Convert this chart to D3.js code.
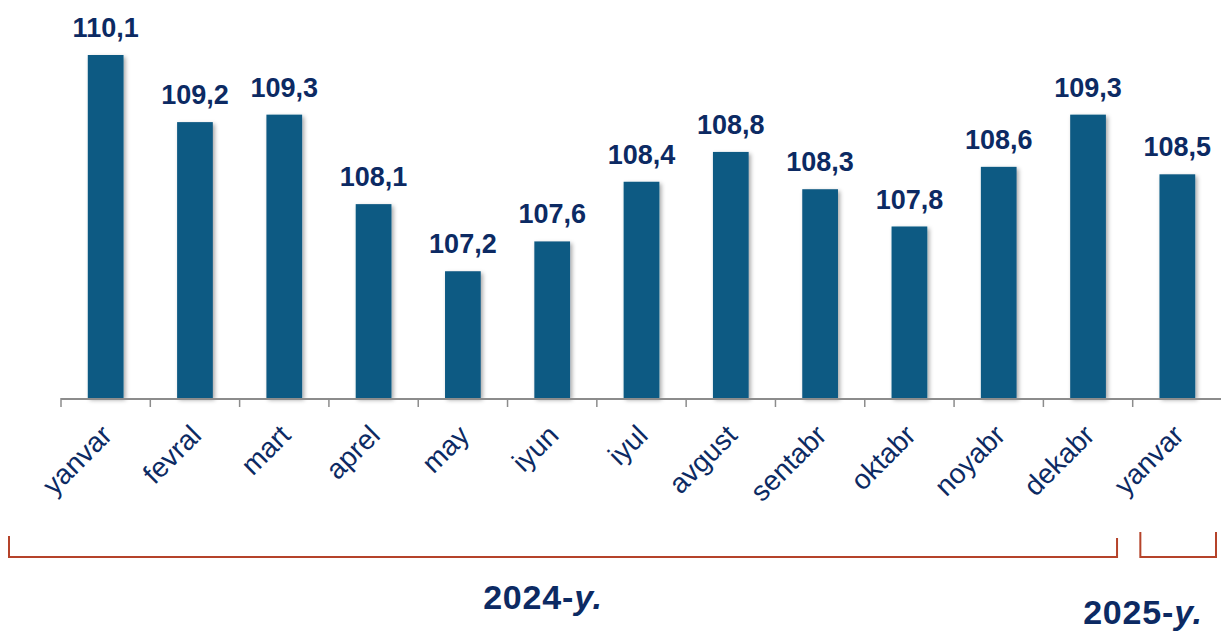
<!DOCTYPE html>
<html>
<head>
<meta charset="utf-8">
<script src="https://cdn.jsdelivr.net/npm/d3@7"></script>
<style>
  body { margin: 0; background: #fff; }
  svg { display: block; font-family: "Liberation Sans", Arial, sans-serif; }
</style>
</head>
<body>
<div id="chart"></div>
<script>
// Data
var months = ["yanvar", "fevral", "mart", "aprel", "may", "iyun", "iyul", "avgust", "sentabr", "oktabr", "noyabr", "dekabr", "yanvar"];
var values = [110.1, 109.2, 109.3, 108.1, 107.2, 107.6, 108.4, 108.8, 108.3, 107.8, 108.6, 109.3, 108.5];
var years = ["2024-y.", "2025-y."];

var width = 1221, height = 632;
var baseY = 398;

var svg = d3.select("#chart")
  .append("svg")
    .attr("width", width)
    .attr("height", height);

var defs = svg.append("defs");
var f = defs.append("filter").attr("id", "shadow").attr("x", "-30%").attr("y", "-10%").attr("width", "160%").attr("height", "130%");
f.append("feDropShadow").attr("dx", 2).attr("dy", 2).attr("stdDeviation", 2).attr("flood-color", "#000").attr("flood-opacity", 0.35);

var x = d3.scaleBand()
  .domain(d3.range(months.length))
  .range([61, 1222])
  .paddingInner(0.6)
  .paddingOuter(0.3);

var y = d3.scaleLinear()
  .domain([105.5, 110.1])
  .range([baseY, 55]);

// Bars
svg.selectAll("rect.bar")
  .data(values)
  .enter()
  .append("rect")
    .attr("class", "bar")
    .attr("x", function(d, i) { return x(i); })
    .attr("y", function(d) { return y(d); })
    .attr("width", x.bandwidth())
    .attr("height", function(d) { return baseY - y(d); })
    .attr("fill", "#0d5a83")
    .attr("filter", "url(#shadow)");

// Value labels
svg.selectAll("text.val")
  .data(values)
  .enter()
  .append("text")
    .attr("class", "val")
    .attr("x", function(d, i) { return x(i) + x.bandwidth() / 2; })
    .attr("y", function(d) { return y(d) - 18; })
    .attr("text-anchor", "middle")
    .attr("font-size", 27)
    .attr("font-weight", "bold")
    .attr("fill", "#0c2a63")
    .text(function(d) { return d.toFixed(1).replace(".", ","); });

// Axis line with ticks at band boundaries
var step = x.step();
var x0 = 61;
svg.append("line")
  .attr("x1", x0).attr("x2", width)
  .attr("y1", baseY + 1).attr("y2", baseY + 1)
  .attr("stroke", "#8c8c8c").attr("stroke-width", 2);

svg.selectAll("line.tick")
  .data(d3.range(months.length))
  .enter()
  .append("line")
    .attr("class", "tick")
    .attr("x1", function(d) { return x0 + d * step; })
    .attr("x2", function(d) { return x0 + d * step; })
    .attr("y1", baseY).attr("y2", baseY + 9)
    .attr("stroke", "#8c8c8c").attr("stroke-width", 1.5);

// Month labels
svg.selectAll("text.month")
  .data(months)
  .enter()
  .append("text")
    .attr("class", "month")
    .attr("text-anchor", "end")
    .attr("font-size", 28)
    .attr("fill", "#0c2a63")
    .attr("transform", function(d, i) {
      var cx = x(i) + x.bandwidth() / 2 + 8;
      return "translate(" + cx + "," + (baseY + 39) + ") rotate(-45)";
    })
    .text(function(d) { return d; });

// Year brackets
var bColor = "#b5432a";
var b1 = [9, x(11) + x.bandwidth() / 2 + 29];
var b2 = [x(12) + x.bandwidth() / 2 - 37, 1216];
svg.append("path")
  .attr("d", "M" + b1[0] + ",536 V557 H" + b1[1] + " V538")
  .attr("fill", "none").attr("stroke", bColor).attr("stroke-width", 2);
svg.append("path")
  .attr("d", "M" + b2[0] + ",532 V557 H" + b2[1] + " V532")
  .attr("fill", "none").attr("stroke", bColor).attr("stroke-width", 2);

var yearPos = [[543, 609], [1143, 624]];
years.forEach(function(t, i) {
  var parts = t.split("-");
  var txt = svg.append("text")
    .attr("x", yearPos[i][0])
    .attr("y", yearPos[i][1])
    .attr("text-anchor", "middle")
    .attr("font-size", 34)
    .attr("font-weight", "bold")
    .attr("letter-spacing", 0.8)
    .attr("fill", "#0c2a63");
  txt.append("tspan").text(parts[0] + "-");
  txt.append("tspan").attr("font-style", "italic").text(parts[1]);
});
</script>
</body>
</html>
